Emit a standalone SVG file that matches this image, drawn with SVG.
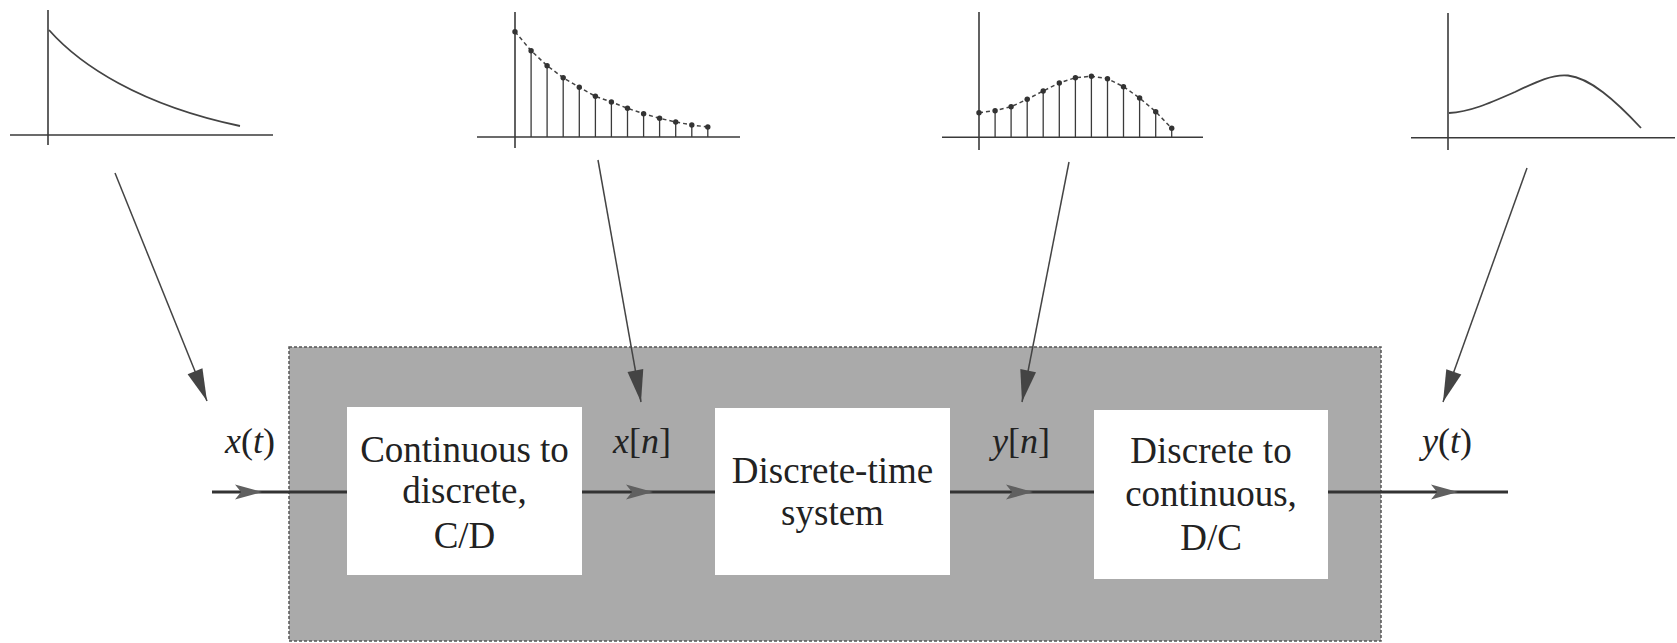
<svg xmlns="http://www.w3.org/2000/svg" width="1677" height="643" viewBox="0 0 1677 643">
<style>
  .axis{stroke:#3a3a3a;stroke-width:1.6;fill:none}
  .curve{stroke:#444;stroke-width:1.8;fill:none}
  .stem{stroke:#3a3a3a;stroke-width:1.3}
  .dash{stroke:#444;stroke-width:1.5;fill:none;stroke-dasharray:4 3}
  .dot{fill:#333}
  .box{fill:#ffffff}
  .txt{font-family:"Liberation Serif","Times New Roman",serif;font-size:37px;fill:#222;text-anchor:middle}
  .lbl{font-family:"Liberation Serif","Times New Roman",serif;font-size:36px;fill:#222}
  .it{font-style:italic}
  .main{stroke:#333;stroke-width:3.2;fill:none}
  .diag{stroke:#444;stroke-width:1.5;fill:none}
</style>
<defs>
  <marker id="midArrow" markerUnits="userSpaceOnUse" markerWidth="34" markerHeight="20" viewBox="-30 -10 34 20" refX="0" refY="0" orient="auto" overflow="visible">
    <path d="M-27,-7.5 L0,0 L-27,7.5 L-21,0 z" fill="#606060"/>
  </marker>
  <marker id="diagArrow" markerUnits="userSpaceOnUse" markerWidth="36" markerHeight="20" viewBox="-34 -10 36 20" refX="0" refY="0" orient="auto" overflow="visible">
    <path d="M-32,-8 L0,0 L-32,8 z" fill="#444"/>
  </marker>
</defs>
<rect width="1677" height="643" fill="#ffffff"/>

<g id="system-frame">
  <rect x="289" y="347" width="1092" height="294" fill="#aaaaaa" stroke="#555" stroke-width="1.5" stroke-dasharray="3 2"/>
</g>

<g id="plot-xt">
  <line class="axis" x1="48" y1="10" x2="48" y2="145"/>
  <line class="axis" x1="10" y1="135" x2="273" y2="135"/>
  <path class="curve" d="M49,30 C80,65 140,105 240,126"/>
</g>

<g id="plot-xn">
  <line class="axis" x1="515" y1="12" x2="515" y2="148"/>
  <line class="axis" x1="477" y1="137" x2="740" y2="137"/>
  <g class="stem">
    <line x1="531.1" y1="137" x2="531.1" y2="50.7"/>
    <line x1="547.1" y1="137" x2="547.1" y2="65.7"/>
    <line x1="563.2" y1="137" x2="563.2" y2="77.7"/>
    <line x1="579.3" y1="137" x2="579.3" y2="87.3"/>
    <line x1="595.4" y1="137" x2="595.4" y2="96.3"/>
    <line x1="611.4" y1="137" x2="611.4" y2="102"/>
    <line x1="627.5" y1="137" x2="627.5" y2="108.3"/>
    <line x1="643.6" y1="137" x2="643.6" y2="113.7"/>
    <line x1="659.6" y1="137" x2="659.6" y2="118.3"/>
    <line x1="675.7" y1="137" x2="675.7" y2="122"/>
    <line x1="691.8" y1="137" x2="691.8" y2="125"/>
    <line x1="707.8" y1="137" x2="707.8" y2="127"/>
  </g>
  <polyline class="dash" points="515,31.7 531.1,50.7 547.1,65.7 563.2,77.7 579.3,87.3 595.4,96.3 611.4,102 627.5,108.3 643.6,113.7 659.6,118.3 675.7,122 691.8,125 707.8,127"/>
  <g class="dot">
    <circle cx="515" cy="31.7" r="2.7"/><circle cx="531.1" cy="50.7" r="2.7"/><circle cx="547.1" cy="65.7" r="2.7"/>
    <circle cx="563.2" cy="77.7" r="2.7"/><circle cx="579.3" cy="87.3" r="2.7"/><circle cx="595.4" cy="96.3" r="2.7"/>
    <circle cx="611.4" cy="102" r="2.7"/><circle cx="627.5" cy="108.3" r="2.7"/><circle cx="643.6" cy="113.7" r="2.7"/>
    <circle cx="659.6" cy="118.3" r="2.7"/><circle cx="675.7" cy="122" r="2.7"/><circle cx="691.8" cy="125" r="2.7"/>
    <circle cx="707.8" cy="127" r="2.7"/>
  </g>
</g>

<g id="plot-yn">
  <line class="axis" x1="979" y1="12" x2="979" y2="150"/>
  <line class="axis" x1="942" y1="137.3" x2="1203" y2="137.3"/>
  <g class="stem">
    <line x1="995.1" y1="137.3" x2="995.1" y2="110.7"/>
    <line x1="1011.1" y1="137.3" x2="1011.1" y2="106.7"/>
    <line x1="1027.2" y1="137.3" x2="1027.2" y2="99.3"/>
    <line x1="1043.2" y1="137.3" x2="1043.2" y2="91"/>
    <line x1="1059.3" y1="137.3" x2="1059.3" y2="83"/>
    <line x1="1075.4" y1="137.3" x2="1075.4" y2="77.7"/>
    <line x1="1091.4" y1="137.3" x2="1091.4" y2="76.3"/>
    <line x1="1107.5" y1="137.3" x2="1107.5" y2="78.7"/>
    <line x1="1123.5" y1="137.3" x2="1123.5" y2="86.7"/>
    <line x1="1139.6" y1="137.3" x2="1139.6" y2="98"/>
    <line x1="1155.7" y1="137.3" x2="1155.7" y2="111.7"/>
    <line x1="1171.7" y1="137.3" x2="1171.7" y2="128.3"/>
  </g>
  <polyline class="dash" points="979,112.7 995.1,110.7 1011.1,106.7 1027.2,99.3 1043.2,91 1059.3,83 1075.4,77.7 1091.4,76.3 1107.5,78.7 1123.5,86.7 1139.6,98 1155.7,111.7 1171.7,128.3"/>
  <g class="dot">
    <circle cx="979" cy="112.7" r="2.7"/><circle cx="995.1" cy="110.7" r="2.7"/><circle cx="1011.1" cy="106.7" r="2.7"/>
    <circle cx="1027.2" cy="99.3" r="2.7"/><circle cx="1043.2" cy="91" r="2.7"/><circle cx="1059.3" cy="83" r="2.7"/>
    <circle cx="1075.4" cy="77.7" r="2.7"/><circle cx="1091.4" cy="76.3" r="2.7"/><circle cx="1107.5" cy="78.7" r="2.7"/>
    <circle cx="1123.5" cy="86.7" r="2.7"/><circle cx="1139.6" cy="98" r="2.7"/><circle cx="1155.7" cy="111.7" r="2.7"/>
    <circle cx="1171.7" cy="128.3" r="2.7"/>
  </g>
</g>

<g id="plot-yt">
  <line class="axis" x1="1448" y1="13" x2="1448" y2="150"/>
  <line class="axis" x1="1411" y1="137.7" x2="1675" y2="137.7"/>
  <path class="curve" d="M1449,113 C1470,112 1490,103 1515,92 C1538,81 1553,74 1568,75.5 C1590,78 1615,100 1641,128"/>
</g>

<g id="block-cd">
  <rect class="box" x="347" y="407" width="235" height="168"/>
  <text class="txt" x="464.5" y="462">Continuous to</text>
  <text class="txt" x="464.5" y="503">discrete,</text>
  <text class="txt" x="464.5" y="548">C/D</text>
</g>

<g id="block-dt">
  <rect class="box" x="715" y="408" width="235" height="167"/>
  <text class="txt" x="832.5" y="483">Discrete-time</text>
  <text class="txt" x="832.5" y="525">system</text>
</g>

<g id="block-dc">
  <rect class="box" x="1094" y="410" width="234" height="169"/>
  <text class="txt" x="1211" y="463">Discrete to</text>
  <text class="txt" x="1211" y="506">continuous,</text>
  <text class="txt" x="1211" y="550">D/C</text>
</g>

<g id="labels">
  <text class="lbl" x="225" y="453"><tspan class="it">x</tspan>(<tspan class="it">t</tspan>)</text>
  <text class="lbl" x="613" y="453"><tspan class="it">x</tspan>[<tspan class="it">n</tspan>]</text>
  <text class="lbl" x="992" y="453"><tspan class="it">y</tspan>[<tspan class="it">n</tspan>]</text>
  <text class="lbl" x="1422" y="453"><tspan class="it">y</tspan>(<tspan class="it">t</tspan>)</text>
</g>

<g id="connectors">
  <path class="main" d="M212,492 L262,492 L347,492" marker-mid="url(#midArrow)"/>
  <path class="main" d="M582,492 L653,492 L715,492" marker-mid="url(#midArrow)"/>
  <path class="main" d="M950,492 L1033,492 L1094,492" marker-mid="url(#midArrow)"/>
  <path class="main" d="M1328,492 L1458,492 L1508,492" marker-mid="url(#midArrow)"/>
  <path class="diag" d="M115,173 L207,401" marker-end="url(#diagArrow)"/>
  <path class="diag" d="M598,160 L641,402" marker-end="url(#diagArrow)"/>
  <path class="diag" d="M1069,162 L1022,402" marker-end="url(#diagArrow)"/>
  <path class="diag" d="M1527,168 L1443,402" marker-end="url(#diagArrow)"/>
</g>
</svg>
